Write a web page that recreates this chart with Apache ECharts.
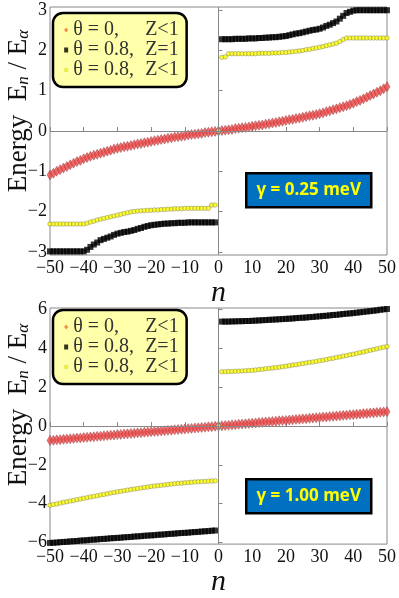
<!DOCTYPE html>
<html>
<head>
<meta charset="utf-8">
<script src="https://cdn.jsdelivr.net/npm/echarts@6/dist/echarts.min.js"></script>
<style>
html, body { margin: 0; padding: 0; background: #fff; }
#chart { width: 399px; height: 598px; }
</style>
</head>
<body>
<div id="chart"></div>
<script>
// n = -50 ... 50
var nVals = [];
for (var i = -50; i <= 50; i++) nVals.push(i);

var seriesNames = ['θ = 0, Z<1', 'θ = 0.8, Z=1', 'θ = 0.8, Z<1'];
var gammaLabels = ['γ = 0.25 meV', 'γ = 1.00 meV'];
var yTicksTop = [-3, -2, -1, 0, 1, 2, 3];
var yTicksBottom = [-6, -4, -2, 0, 2, 4, 6];

// gamma = 0.25 meV
var redTop = [
  -1.09,-1.05,-1.00,-0.96,-0.92,-0.88,-0.84,-0.80,-0.76,-0.73,
  -0.69,-0.66,-0.63,-0.60,-0.58,-0.55,-0.53,-0.50,-0.48,-0.45,
  -0.43,-0.41,-0.39,-0.38,-0.36,-0.34,-0.32,-0.31,-0.29,-0.28,
  -0.26,-0.24,-0.23,-0.21,-0.20,-0.18,-0.17,-0.15,-0.14,-0.13,
  -0.12,-0.10,-0.09,-0.08,-0.07,-0.06,-0.04,-0.03,-0.02,-0.01,
  0,
  0.01,0.02,0.03,0.04,0.06,0.07,0.08,0.09,0.10,0.12,
  0.13,0.14,0.15,0.17,0.18,0.20,0.21,0.23,0.24,0.26,
  0.28,0.29,0.31,0.32,0.34,0.36,0.38,0.39,0.41,0.43,
  0.45,0.48,0.50,0.53,0.55,0.58,0.60,0.63,0.66,0.69,
  0.73,0.76,0.80,0.84,0.88,0.92,0.96,1.00,1.05,1.10
];
var blackTop = [
  -2.99,-2.99,-2.99,-2.99,-2.99,-2.99,-2.99,-2.99,-2.99,-2.99,
  -2.99,-2.95,-2.88,-2.82,-2.77,-2.71,-2.68,-2.65,-2.62,-2.58,
  -2.55,-2.53,-2.51,-2.50,-2.48,-2.46,-2.43,-2.41,-2.38,-2.36,
  -2.34,-2.33,-2.32,-2.31,-2.30,-2.30,-2.29,-2.29,-2.28,-2.28,
  -2.28,-2.27,-2.27,-2.27,-2.27,-2.27,-2.27,-2.27,-2.27,-2.27,
  null,
  2.28,2.28,2.28,2.28,2.29,2.29,2.29,2.29,2.30,2.30,
  2.30,2.31,2.31,2.32,2.32,2.33,2.33,2.34,2.35,2.36,
  2.38,2.40,2.42,2.43,2.45,2.47,2.49,2.51,2.52,2.54,
  2.57,2.61,2.64,2.68,2.72,2.79,2.86,2.93,2.96,2.99,
  3.00,3.00,3.00,3.00,3.00,3.00,3.00,3.00,3.00,3.00
];
var yellowTop = [
  -2.31,-2.31,-2.31,-2.31,-2.31,-2.31,-2.31,-2.31,-2.31,-2.31,
  -2.31,-2.29,-2.26,-2.24,-2.21,-2.19,-2.17,-2.15,-2.13,-2.11,
  -2.09,-2.07,-2.05,-2.03,-2.01,-2.00,-1.99,-1.98,-1.98,-1.97,
  -1.97,-1.96,-1.96,-1.95,-1.95,-1.94,-1.94,-1.93,-1.93,-1.93,
  -1.92,-1.92,-1.92,-1.92,-1.92,-1.92,-1.92,-1.92,-1.84,-1.84,
  0,
  1.83,1.84,1.92,1.92,1.92,1.92,1.92,1.92,1.92,1.92,
  1.92,1.93,1.93,1.93,1.93,1.94,1.94,1.94,1.95,1.95,
  1.96,1.97,1.98,1.99,2.00,2.02,2.03,2.05,2.06,2.08,
  2.10,2.12,2.14,2.16,2.18,2.22,2.27,2.31,2.31,2.31,
  2.31,2.31,2.31,2.31,2.31,2.31,2.31,2.31,2.31,2.31
];

// gamma = 1.00 meV
var redBottom = [
  -0.74,-0.73,-0.71,-0.70,-0.68,-0.67,-0.65,-0.64,-0.62,-0.61,
  -0.59,-0.58,-0.56,-0.55,-0.53,-0.52,-0.50,-0.49,-0.47,-0.46,
  -0.44,-0.43,-0.41,-0.40,-0.38,-0.37,-0.35,-0.34,-0.32,-0.31,
  -0.29,-0.28,-0.27,-0.25,-0.24,-0.22,-0.21,-0.19,-0.18,-0.16,
  -0.15,-0.13,-0.12,-0.10,-0.09,-0.07,-0.06,-0.04,-0.03,-0.01,
  0,
  0.01,0.03,0.04,0.06,0.07,0.09,0.10,0.12,0.13,0.15,
  0.16,0.18,0.19,0.21,0.22,0.24,0.25,0.27,0.28,0.29,
  0.31,0.32,0.34,0.35,0.37,0.38,0.40,0.41,0.43,0.44,
  0.46,0.47,0.49,0.50,0.52,0.53,0.55,0.56,0.58,0.59,
  0.61,0.62,0.64,0.65,0.67,0.68,0.70,0.71,0.73,0.74
];
var blackBottom = [
  -6.02,-6.01,-6.00,-5.98,-5.97,-5.96,-5.94,-5.93,-5.92,-5.90,
  -5.89,-5.88,-5.86,-5.85,-5.84,-5.82,-5.81,-5.80,-5.78,-5.77,
  -5.76,-5.75,-5.73,-5.72,-5.71,-5.69,-5.68,-5.67,-5.65,-5.64,
  -5.63,-5.62,-5.60,-5.59,-5.58,-5.56,-5.55,-5.54,-5.52,-5.51,
  -5.50,-5.49,-5.47,-5.46,-5.45,-5.43,-5.42,-5.41,-5.39,-5.38,
  null,
  5.38,5.38,5.38,5.39,5.39,5.40,5.40,5.41,5.41,5.42,
  5.43,5.44,5.45,5.46,5.47,5.48,5.49,5.50,5.51,5.52,
  5.53,5.54,5.56,5.57,5.58,5.59,5.61,5.62,5.64,5.65,
  5.67,5.68,5.70,5.72,5.73,5.75,5.77,5.79,5.80,5.82,
  5.84,5.86,5.88,5.90,5.92,5.94,5.96,5.99,6.01,6.03
];
var yellowBottom = [
  -4.08,-4.04,-4.01,-3.97,-3.93,-3.90,-3.86,-3.83,-3.79,-3.76,
  -3.72,-3.69,-3.65,-3.62,-3.59,-3.55,-3.52,-3.49,-3.45,-3.42,
  -3.39,-3.36,-3.33,-3.30,-3.27,-3.24,-3.22,-3.19,-3.16,-3.14,
  -3.11,-3.09,-3.07,-3.05,-3.03,-3.01,-2.99,-2.97,-2.95,-2.94,
  -2.92,-2.91,-2.90,-2.88,-2.87,-2.86,-2.85,-2.84,-2.83,-2.82,
  0,
  2.80,2.80,2.81,2.81,2.82,2.83,2.84,2.85,2.86,2.87,
  2.89,2.91,2.93,2.95,2.97,2.99,3.01,3.03,3.06,3.08,
  3.11,3.14,3.16,3.19,3.22,3.25,3.28,3.30,3.33,3.36,
  3.39,3.43,3.46,3.49,3.53,3.56,3.60,3.63,3.67,3.70,
  3.74,3.78,3.82,3.86,3.90,3.94,3.98,4.02,4.06,4.10
];

var serif = '"Liberation Serif", "Times New Roman", serif';

function minus(v) {
  return v < 0 ? '\u2212' + Math.abs(v) : String(v);
}

function pairs(vals) {
  var out = [];
  for (var i = 0; i < nVals.length; i++) {
    if (vals[i] !== null) out.push([nVals[i], vals[i]]);
  }
  return out;
}

function xAxisFor(g) {
  return {
    type: 'value', gridIndex: g, min: -50, max: 50, interval: 10,
    name: 'n', nameLocation: 'middle', nameGap: 9,
    nameTextStyle: { fontFamily: serif, fontStyle: 'italic', fontSize: 30, color: '#111' },
    axisLine: { show: false },
    axisTick: { inside: true, length: 4, lineStyle: { color: '#888' } },
    axisLabel: { fontFamily: serif, fontSize: 18, color: '#111', margin: 4, formatter: minus },
    splitLine: { show: false }
  };
}

function yAxisFor(g, lim, ticks) {
  return {
    type: 'value', gridIndex: g, min: -lim, max: lim,
    axisLine: { show: false },
    axisTick: { inside: true, length: 4, customValues: ticks, lineStyle: { color: '#888' } },
    axisLabel: { customValues: ticks, fontFamily: serif, fontSize: 18, color: '#111', margin: 3, formatter: minus },
    splitLine: { show: false }
  };
}

function zeroLines(g) {
  return {
    type: 'scatter', xAxisIndex: g, yAxisIndex: g, data: [], z: 1, silent: true,
    markLine: {
      silent: true, symbol: 'none', animation: false,
      label: { show: false },
      lineStyle: { color: '#888', width: 1, type: 'solid' },
      data: [{ yAxis: 0 }, { xAxis: 0 }]
    }
  };
}

function bandSeries(g, red, black, yellow) {
  return [
    {
      name: seriesNames[0], type: 'scatter', xAxisIndex: g, yAxisIndex: g, z: 2,
      symbol: 'diamond', symbolSize: [6, 10],
      itemStyle: { color: '#F04A4A', borderColor: '#8E2B2B', borderWidth: 0.5 },
      data: pairs(red)
    },
    {
      name: seriesNames[1], type: 'scatter', xAxisIndex: g, yAxisIndex: g, z: 3,
      symbol: 'rect', symbolSize: 6,
      itemStyle: { color: '#000' },
      data: pairs(black)
    },
    {
      name: seriesNames[2], type: 'scatter', xAxisIndex: g, yAxisIndex: g, z: 4,
      symbol: 'circle', symbolSize: 4.5,
      itemStyle: { color: '#FFFF00', borderColor: '#666', borderWidth: 0.5 },
      data: pairs(yellow)
    }
  ];
}

function legendAt(top) {
  return {
    left: 53, top: top, orient: 'vertical',
    backgroundColor: '#FFFFAA', borderColor: '#000', borderWidth: 2.5, borderRadius: 10,
    padding: [7, 8, 7, 11], itemGap: 0, itemWidth: 4, itemHeight: 5,
    selectedMode: false,
    data: [
      { name: seriesNames[0], itemStyle: { color: '#F06A3A', borderWidth: 0 } },
      { name: seriesNames[1], itemStyle: { color: '#000', borderWidth: 0 } },
      { name: seriesNames[2], itemStyle: { color: '#F2F200', borderColor: '#AAA', borderWidth: 0.3 } }
    ],
    formatter: function (name) {
      var p = name.split(', ');
      return '{a|' + p[0] + ',}{b|' + p[1] + '}';
    },
    textStyle: {
      fontFamily: serif, fontSize: 20, color: '#333', lineHeight: 19.5,
      rich: {
        a: { width: 72, fontFamily: serif, fontSize: 20, color: '#333', lineHeight: 19.5 },
        b: { fontFamily: serif, fontSize: 20, color: '#333', lineHeight: 19.5 }
      }
    }
  };
}

function gammaBox(left, top, label) {
  return {
    type: 'group', left: left, top: top,
    children: [
      { type: 'rect', shape: { x: 0, y: 0, width: 125, height: 34 },
        style: { fill: '#0070C0', stroke: '#000', lineWidth: 2.5 } },
      { type: 'text', x: 62.5, y: 17,
        style: { text: label, fill: '#FFFF00', font: 'bold 17px "Open Sans"',
                 align: 'center', verticalAlign: 'middle',
                 textAlign: 'center', textVerticalAlign: 'middle' } }
    ]
  };
}

function yTitle(cx, cy) {
  return {
    type: 'text', x: cx, y: cy, rotation: Math.PI / 2,
    style: {
      text: '{a|Energy  E}{s|n}{a| / E}{s|α}',
      align: 'center', verticalAlign: 'middle',
      textAlign: 'center', textVerticalAlign: 'middle',
      rich: {
        a: { fontFamily: serif, fontSize: 27, fill: '#111', color: '#111' },
        s: { fontFamily: serif, fontSize: 17, fontStyle: 'italic', fill: '#111', color: '#111', verticalAlign: 'bottom' }
      }
    }
  };
}

var myChart = echarts.init(document.getElementById('chart'), null, { renderer: 'canvas' });

var option = {
  animation: false,
  backgroundColor: '#fff',
  grid: [
    { left: 50, right: 10, top: 7, height: 248, show: true, borderColor: '#888', borderWidth: 1, backgroundColor: 'transparent' },
    { left: 50, right: 10, top: 308, height: 247, show: true, borderColor: '#888', borderWidth: 1, backgroundColor: 'transparent' }
  ],
  xAxis: [xAxisFor(0), xAxisFor(1)],
  yAxis: [yAxisFor(0, 3.08, yTicksTop), yAxisFor(1, 6.08, yTicksBottom)],
  legend: [legendAt(13), legendAt(310)],
  graphic: [
    gammaBox(245, 172, gammaLabels[0]),
    gammaBox(245, 478, gammaLabels[1]),
    yTitle(19, 111),
    yTitle(19, 405)
  ],
  series: [zeroLines(0), zeroLines(1)]
    .concat(bandSeries(0, redTop, blackTop, yellowTop))
    .concat(bandSeries(1, redBottom, blackBottom, yellowBottom))
};

myChart.setOption(option);
</script>
</body>
</html>
